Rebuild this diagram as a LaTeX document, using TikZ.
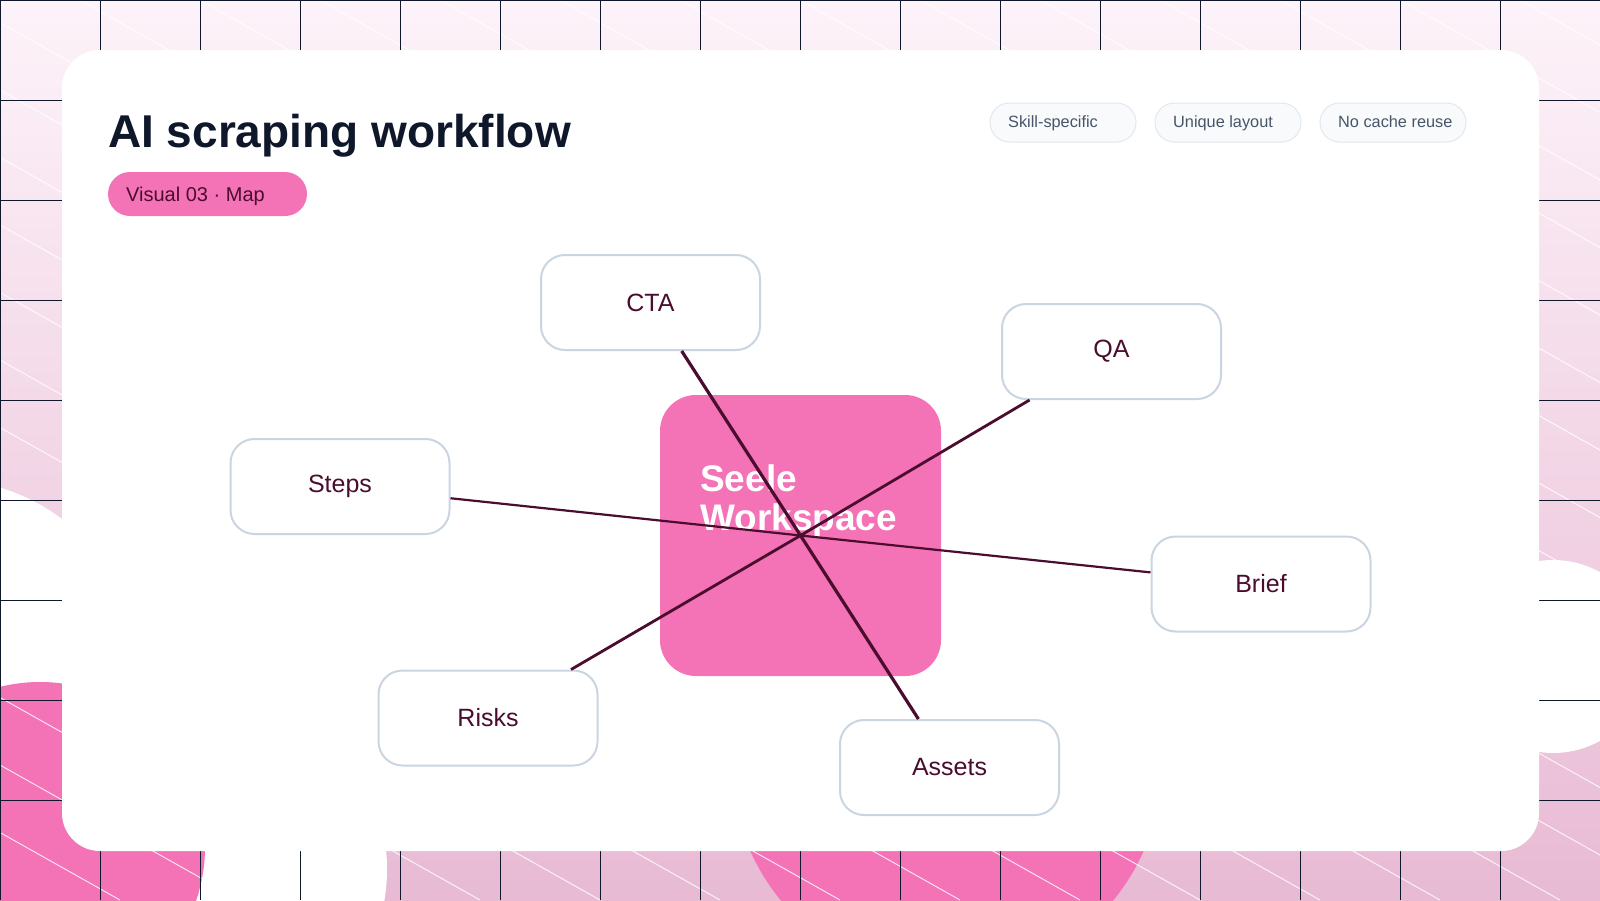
\documentclass[tikz,border=0pt]{standalone}
\usepackage{fontspec}
\setmainfont{Liberation Sans}
\definecolor{pinkmain}{HTML}{F472B6}
\definecolor{plum}{HTML}{4A0D2E}
\definecolor{ink}{HTML}{0F172A}
\definecolor{bgtop}{HTML}{FDF3F9}
\definecolor{bgbot}{HTML}{E8BAD4}
\definecolor{satedge}{HTML}{CBD5E1}
\definecolor{chipfill}{HTML}{F8FAFC}
\definecolor{chipedge}{HTML}{E2E8F0}
\definecolor{chiptext}{HTML}{475569}
\tikzset{
  x=1pt,y=-1pt,
  gridline/.style={draw=ink,line width=1pt},
  hatch/.style={draw=white,line width=1pt,opacity=.8},
  sat/.style={draw=satedge,line width=2pt,fill=white,rounded corners=24pt,minimum width=219pt,minimum height=95pt,inner sep=0pt,text=plum,font=\fontsize{25}{30}\selectfont},
  chip/.style={draw=chipedge,line width=1pt,fill=chipfill,rounded corners=19.5pt,minimum width=146pt,minimum height=39pt,inner sep=0pt},
  chiplabel/.style={anchor=base west,inner sep=0pt,text=chiptext,font=\fontsize{16.3}{20}\selectfont},
  wire/.style={draw=plum}
}
\begin{document}
\begin{tikzpicture}
\useasboundingbox (0,0) rectangle (1600,900);
\shade[top color=bgtop,bottom color=bgbot] (0,0) rectangle (1600,900);
\begin{scope}
\clip (0,0) rectangle (1600,900);
\fill[white] (-58,679) circle[radius=200];
\fill[white] (197,869) circle[radius=190];
\fill[white] (1553,656.5) circle[radius=96.5];
\fill[pinkmain] (40,847) circle[radius=165];
\fill[pinkmain] (947,764) circle[radius=215];
\foreach \k in {-14,...,13} {
  \draw[hatch] ({80+120*\k},0) -- ({80+120*\k+1600},900);
}
\foreach \gx in {0,100,...,1500} {
  \draw[gridline] ({\gx+0.5},0) -- ({\gx+0.5},900);
}
\foreach \gy in {0,100,...,800} {
  \draw[gridline] (0,{\gy+0.5}) -- (1600,{\gy+0.5});
}
\end{scope}
\fill[white,rounded corners=38pt] (62,50) rectangle (1539,851);

\node[anchor=base west,inner sep=0pt,text=ink,font=\fontsize{46}{50}\selectfont\bfseries] (title) at (108,147) {AI scraping workflow};
\node[fill=pinkmain,rounded corners=22pt,minimum width=199pt,minimum height=44pt,inner sep=0pt] (tag) at (207.5,194) {};
\node[anchor=base west,inner sep=0pt,text=plum,font=\fontsize{20}{24}\selectfont] (taglabel) at (126,201) {Visual 03 · Map};

\node[chip] (chipa) at (1063,122.5) {};
\node[chip] (chipb) at (1228,122.5) {};
\node[chip] (chipc) at (1393,122.5) {};
\node[chiplabel] (chipatext) at (1008,127) {Skill-specific};
\node[chiplabel] (chipbtext) at (1173,127) {Unique layout};
\node[chiplabel] (chipctext) at (1338,127) {No cache reuse};

\node[fill=pinkmain,rounded corners=36pt,minimum size=281pt,inner sep=0pt] (hub) at (800.5,535.5) {};
\node[anchor=north west,inner sep=0pt,text=white,align=left,font=\fontsize{37}{39}\selectfont\bfseries] (hublabel) at (700,464) {Seele\\Workspace};

\node[sat] (cta) at (650.5,302.5) {CTA};
\node[sat] (qa) at (1111.5,351.5) {QA};
\node[sat] (steps) at (340,486.5) {Steps};
\node[sat] (brief) at (1261,584) {Brief};
\node[sat] (risks) at (488,718) {Risks};
\node[sat] (assets) at (949.5,767.5) {Assets};

\draw[wire,line width=3.2pt] (hub.center) -- (cta);
\draw[wire,line width=3.2pt] (hub.center) -- (assets);
\draw[wire,line width=2.8pt] (hub.center) -- (qa);
\draw[wire,line width=2.8pt] (hub.center) -- (risks);
\draw[wire,line width=2.2pt] (hub.center) -- (steps);
\draw[wire,line width=2.2pt] (hub.center) -- (brief);
\end{tikzpicture}
\end{document}
